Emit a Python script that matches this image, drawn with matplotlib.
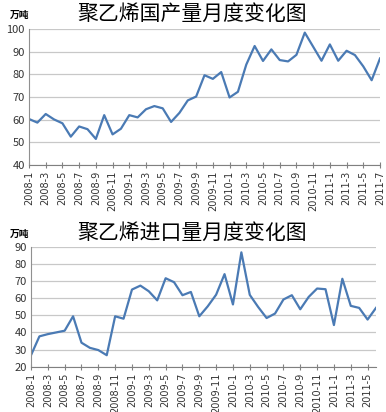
import matplotlib.pyplot as plt

plt.rcParams['font.family'] = ['Noto Sans CJK SC', 'DejaVu Sans']

# domestic output, 2008-1 .. 2011-7 (10k tons)
months_dom = [f"{y}-{m}" for y in range(2008, 2012) for m in range(1, 13)][:43]
domestic = [60.3, 58.7, 62.5, 60.1, 58.4, 52.5, 57.0, 55.8, 51.5, 62.0,
            53.5, 56.0, 62.0, 61.0, 64.6, 66.0, 65.0, 59.0, 63.0, 68.5,
            70.2, 79.6, 78.0, 81.0, 69.8, 72.3, 84.3, 92.5, 85.9, 91.0,
            86.3, 85.7, 88.6, 98.4, 92.2, 86.0, 93.2, 86.0, 90.4, 88.5,
            83.5, 77.4, 87.0]

# imports, 2008-1 .. 2011-6 (10k tons)
months_imp = months_dom[:42]
imports = [26.7, 37.7, 39.0, 40.0, 41.0, 49.4, 34.0, 31.0, 29.7, 26.7,
           49.4, 48.0, 65.0, 67.3, 64.0, 58.7, 71.6, 69.3, 61.7, 63.6,
           49.4, 55.2, 62.0, 74.0, 56.3, 86.7, 61.9, 54.8, 48.4, 51.0,
           59.2, 61.7, 53.5, 60.7, 65.6, 65.2, 44.3, 71.3, 55.5, 54.3,
           47.5, 54.3]

W, H = 386, 412
fig = plt.figure(figsize=(W / 100, H / 100), dpi=100)
line_color = '#4a7ab4'


def draw(ax, labels, values, ylim, yticks):
    x = list(range(len(values)))
    ax.plot(x, values, color=line_color, lw=1.6)
    ax.set_xlim(0, len(values) - 1)
    ax.set_ylim(*ylim)
    ax.set_yticks(yticks)
    ax.set_xticks(x[::2])
    ax.set_xticklabels(labels[::2], rotation=90, fontsize=7, family='DejaVu Sans')
    ax.tick_params(axis='y', length=0, labelsize=8, pad=3, labelcolor='#333333')
    ax.tick_params(axis='x', direction='inout', length=4, color='#808080', pad=2,
                   labelcolor='#333333')
    ax.grid(axis='y', color='#c8c8c8', lw=0.9)
    ax.set_axisbelow(True)
    for s in ['top', 'right']:
        ax.spines[s].set_visible(False)
    ax.spines['left'].set_color('#909090')
    ax.spines['bottom'].set_color('#808080')


ax1 = fig.add_axes([29 / W, 1 - 165 / H, 351 / W, 136 / H])
draw(ax1, months_dom, domestic, (40, 100), range(40, 101, 10))
fig.text(192 / W, 1 - 14 / H, '聚乙烯国产量月度变化图', ha='center', va='center', fontsize=15)
fig.text(10 / W, 1 - 15 / H, '万吨', ha='left', va='center', fontsize=7, weight='bold')

ax2 = fig.add_axes([31 / W, 1 - 366.7 / H, 345 / W, 120 / H])
draw(ax2, months_imp, imports, (20, 90), range(20, 91, 10))
fig.text(192 / W, 1 - 233 / H, '聚乙烯进口量月度变化图', ha='center', va='center', fontsize=15)
fig.text(10 / W, 1 - 234 / H, '万吨', ha='left', va='center', fontsize=7, weight='bold')

fig.savefig('out.png', dpi=100)
